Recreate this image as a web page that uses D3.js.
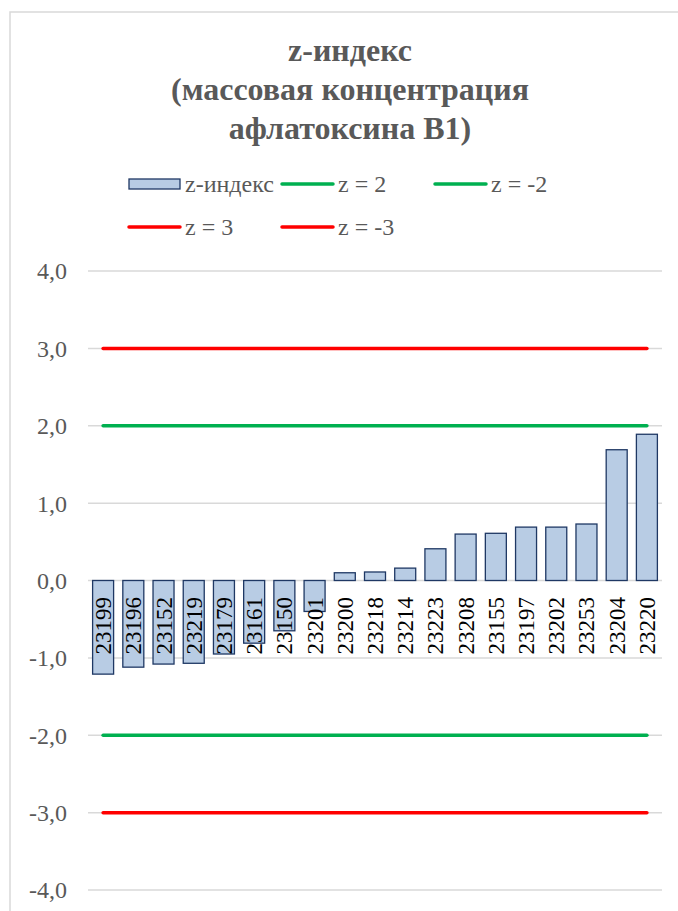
<!DOCTYPE html>
<html>
<head>
  <meta charset="UTF-8">
  <title>z-индекс</title>
  <style>
    body { margin: 0; background: #fff; }
    svg { display: block; }
  </style>
</head>
<body>
  <svg id="chart" width="678" height="911"></svg>

  <script src="https://cdn.jsdelivr.net/npm/d3@7"></script>
  <script>
    // data
    const categories = ["23199", "23196", "23152", "23219", "23179", "23161", "23150", "23201",
      "23200", "23218", "23214", "23223", "23208", "23155", "23197", "23202", "23253", "23204", "23220"];
    const zValues = [-1.21, -1.12, -1.08, -1.07, -0.95, -0.81, -0.65, -0.40,
      0.10, 0.11, 0.16, 0.41, 0.60, 0.61, 0.69, 0.69, 0.73, 1.69, 1.89];
    const yTicks = [-4, -3, -2, -1, 0, 1, 2, 3, 4];
    const titleLines = ["z-индекс", "(массовая концентрация", "афлатоксина В1)"];
    const lineNames = ["z = 2", "z = -2", "z = 3", "z = -3"];
    const lineLevels = [2, -2, 3, -3];
    const lineColors = ["#00b050", "#00b050", "#ff0000", "#ff0000"];

    const FONT = '"Liberation Serif", "Times New Roman", serif';
    const svg = d3.select("#chart");
    const plotLeft = 88, plotRight = 662, plotTop = 271, plotBottom = 890;

    // chart area border
    svg.append("rect")
      .attr("x", 10).attr("y", 12)
      .attr("width", 700).attr("height", 920)
      .attr("fill", "none")
      .attr("stroke", "#d9d9d9")
      .attr("stroke-width", 1.5);

    const x = d3.scaleBand().domain(categories).range([plotLeft, plotRight]).paddingInner(0.305).paddingOuter(0.1525);
    const y = d3.scaleLinear().domain([-4, 4]).range([plotBottom, plotTop]);

    // title
    svg.append("g").selectAll("text")
      .data(titleLines)
      .join("text")
      .attr("x", 350)
      .attr("y", (d, i) => 61 + i * 39)
      .attr("text-anchor", "middle")
      .style("font-family", FONT)
      .style("font-size", "32px")
      .style("font-weight", "bold")
      .attr("fill", "#595959")
      .text(d => d);

    // gridlines + y labels
    svg.append("g").selectAll("line")
      .data(yTicks)
      .join("line")
      .attr("x1", plotLeft).attr("x2", plotRight)
      .attr("y1", d => y(d)).attr("y2", d => y(d))
      .attr("stroke", "#d9d9d9")
      .attr("stroke-width", 1.5);

    const fmt = d => d.toFixed(1).replace(".", ",");
    svg.append("g").selectAll("text")
      .data(yTicks)
      .join("text")
      .attr("x", 67)
      .attr("y", d => y(d))
      .attr("dy", "0.35em")
      .attr("text-anchor", "end")
      .style("font-family", FONT)
      .style("font-size", "24px")
      .attr("fill", "#595959")
      .text(fmt);

    // bars
    svg.append("g").selectAll("rect")
      .data(categories)
      .join("rect")
      .attr("x", d => x(d))
      .attr("width", x.bandwidth())
      .attr("y", (d, i) => y(Math.max(0, zValues[i])))
      .attr("height", (d, i) => Math.abs(y(zValues[i]) - y(0)))
      .attr("fill", "#b8cce4")
      .attr("stroke", "#1f3864")
      .attr("stroke-width", 1.3);

    // threshold lines, one point per category
    const line = d3.line().x(d => x(d.cat) + x.bandwidth() / 2).y(d => y(d.v));
    svg.append("g").selectAll("path")
      .data(lineLevels)
      .join("path")
      .attr("d", v => line(categories.map(c => ({ cat: c, v: v }))))
      .attr("fill", "none")
      .attr("stroke", (d, i) => lineColors[i])
      .attr("stroke-width", 3.5)
      .attr("stroke-linecap", "round");

    // category labels (rotated, below the zero line)
    svg.append("g").selectAll("text")
      .data(categories)
      .join("text")
      .attr("transform", d => `translate(${x(d) + x.bandwidth() / 2 + 8},597) rotate(-90)`)
      .attr("text-anchor", "end")
      .style("font-family", FONT)
      .style("font-size", "23px")
      .attr("fill", "#000")
      .text(d => d);

    // legend
    const legendItems = ["z-индекс"].concat(lineNames);
    const item = svg.append("g").selectAll("g")
      .data(legendItems)
      .join("g")
      .attr("transform", (d, i) => `translate(${129 + (i % 3) * 153},${184 + Math.floor(i / 3) * 43})`);

    item.filter((d, i) => i === 0).append("rect")
      .attr("x", 0).attr("y", -5).attr("width", 51).attr("height", 10)
      .attr("fill", "#b8cce4").attr("stroke", "#1f3864").attr("stroke-width", 1.3);
    item.filter((d, i) => i > 0).append("line")
      .attr("x1", 0).attr("x2", 51).attr("y1", 0).attr("y2", 0)
      .attr("stroke", (d, i) => lineColors[i])
      .attr("stroke-width", 3.5)
      .attr("stroke-linecap", "round");
    item.append("text")
      .attr("x", 56).attr("dy", "0.35em")
      .style("font-family", FONT)
      .style("font-size", "24px")
      .attr("fill", "#595959")
      .text(d => d);
  </script>
</body>
</html>
